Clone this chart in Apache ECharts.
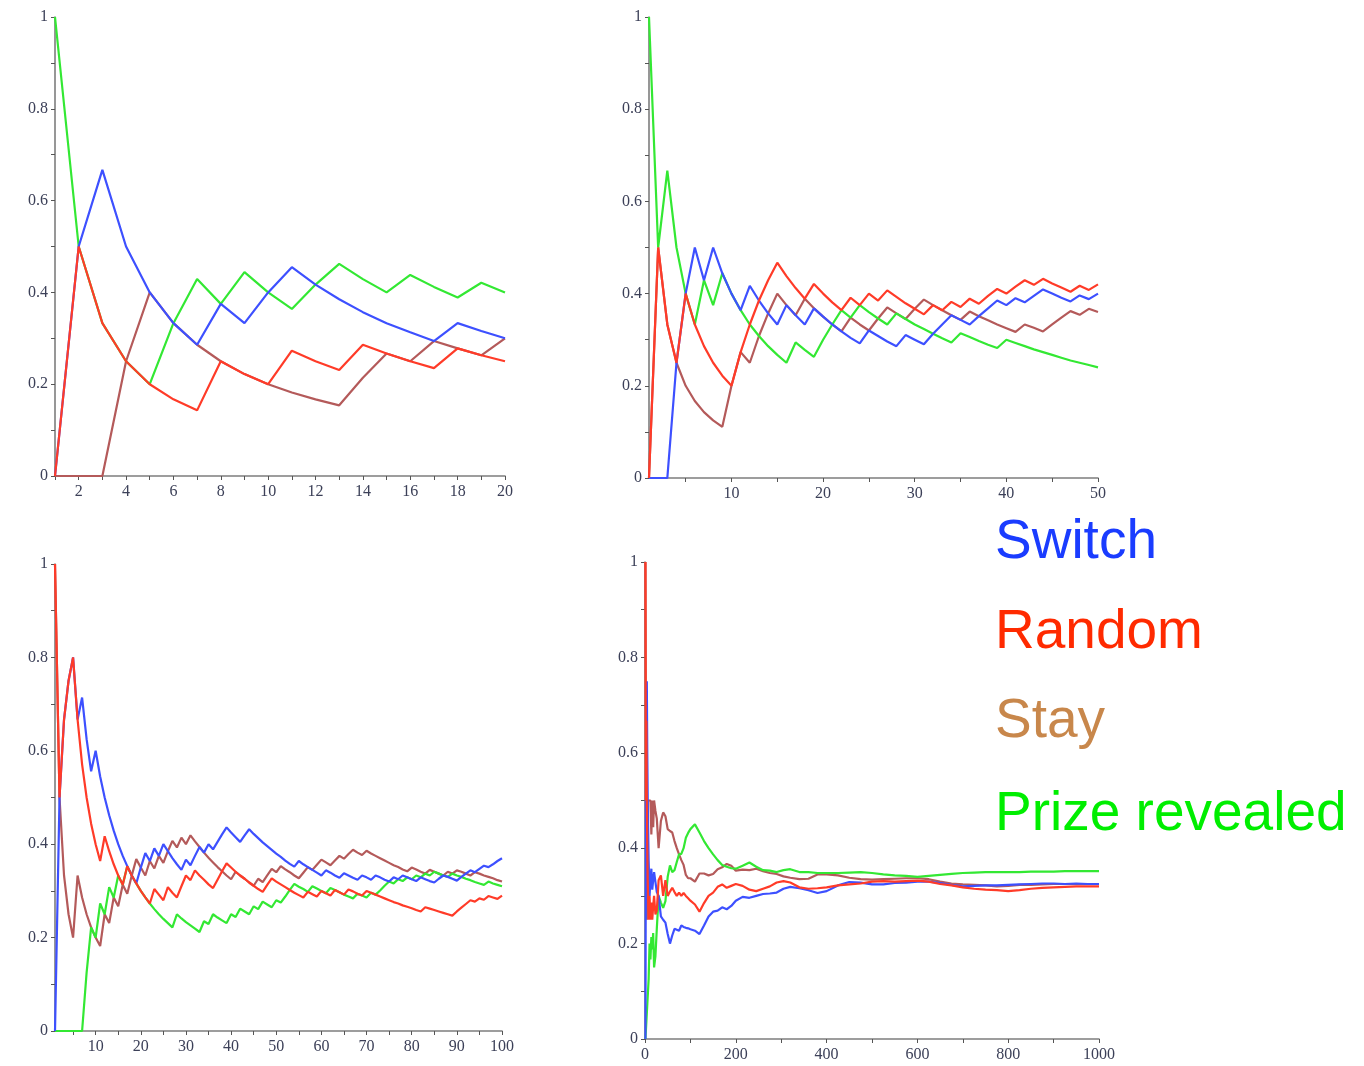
<!DOCTYPE html>
<html><head><meta charset="utf-8">
<script src="https://cdn.jsdelivr.net/npm/echarts@6/dist/echarts.min.js"></script>
<style>html,body{margin:0;padding:0;background:#fff}#c{width:1364px;height:1066px}</style>
</head><body><div id="c"></div>
<script>
// ---------- DATA (running proportions) ----------
const trials20 = [1,2,3,4,5,6,7,8,9,10,11,12,13,14,15,16,17,18,19,20];
const switch20 = [0,0.5,0.667,0.5,0.4,0.333,0.286,0.375,0.333,0.4,0.455,0.417,0.385,0.357,0.333,0.313,0.294,0.333,0.316,0.3];
const random20 = [0,0.5,0.333,0.25,0.2,0.167,0.143,0.25,0.222,0.2,0.273,0.25,0.231,0.286,0.267,0.25,0.235,0.278,0.263,0.25];
const stay20   = [0,0,0,0.25,0.4,0.333,0.286,0.25,0.222,0.2,0.182,0.167,0.154,0.214,0.267,0.25,0.294,0.278,0.263,0.3];
const prize20  = [1,0.5,0.333,0.25,0.2,0.333,0.429,0.375,0.444,0.4,0.364,0.417,0.462,0.429,0.4,0.438,0.412,0.389,0.421,0.4];

const trials50 = [1,2,3,4,5,6,7,8,9,10,11,12,13,14,15,16,17,18,19,20,21,22,23,24,25,26,27,28,29,30,31,32,33,34,35,36,37,38,39,40,41,42,43,44,45,46,47,48,49,50];
const switch50 = [0,0,0,0.25,0.4,0.5,0.429,0.5,0.444,0.4, 0.364,0.417,0.385,0.357,0.333,0.375,0.353,0.333,0.368,0.35, 0.333,0.318,0.304,0.292,0.32,0.308,0.296,0.286,0.31,0.3, 0.29,0.313,0.333,0.353,0.343,0.333,0.351,0.368,0.385,0.375, 0.39,0.381,0.395,0.409,0.4,0.391,0.383,0.396,0.388,0.4];
const random50 = [0,0.5,0.333,0.25,0.4,0.333,0.286,0.25,0.222,0.2, 0.273,0.333,0.385,0.429,0.467,0.438,0.412,0.389,0.421,0.4, 0.381,0.364,0.391,0.375,0.4,0.385,0.407,0.393,0.379,0.367, 0.355,0.375,0.364,0.382,0.371,0.389,0.378,0.395,0.41,0.4, 0.415,0.429,0.419,0.432,0.422,0.413,0.404,0.417,0.408,0.42];
const stay50   = [0,0.5,0.333,0.25,0.2,0.167,0.143,0.125,0.111,0.2, 0.273,0.25,0.308,0.357,0.4,0.375,0.353,0.389,0.368,0.35, 0.333,0.318,0.348,0.333,0.32,0.346,0.37,0.357,0.345,0.367, 0.387,0.375,0.364,0.353,0.343,0.361,0.351,0.342,0.333,0.325, 0.317,0.333,0.326,0.318,0.333,0.348,0.362,0.354,0.367,0.36];
const prize50  = [1,0.5,0.667,0.5,0.4,0.333,0.429,0.375,0.444,0.4, 0.364,0.333,0.308,0.286,0.267,0.25,0.294,0.278,0.263,0.3, 0.333,0.364,0.348,0.375,0.36,0.346,0.333,0.357,0.345,0.333, 0.323,0.313,0.303,0.294,0.314,0.306,0.297,0.289,0.282,0.3, 0.293,0.286,0.279,0.273,0.267,0.261,0.255,0.25,0.245,0.24];

const trials100 = [1,2,3,4,5,6,7,8,9,10,11,12,13,14,15,16,17,18,19,20,21,22,23,24,25,26,27,28,29,30,31,32,33,34,35,36,37,38,39,40,41,42,43,44,45,46,47,48,49,50,51,52,53,54,55,56,57,58,59,60,61,62,63,64,65,66,67,68,69,70,71,72,73,74,75,76,77,78,79,80,81,82,83,84,85,86,87,88,89,90,91,92,93,94,95,96,97,98,99,100];
const switch100 = [0,0.5,0.667,0.75,0.8,0.667,0.714,0.625,0.556,0.6, 0.545,0.5,0.462,0.429,0.4,0.375,0.353,0.333,0.316,0.35, 0.381,0.364,0.391,0.375,0.4,0.385,0.37,0.357,0.345,0.367, 0.355,0.375,0.394,0.382,0.4,0.389,0.405,0.421,0.436,0.425, 0.415,0.405,0.419,0.432,0.422,0.413,0.404,0.396,0.388,0.38, 0.373,0.365,0.358,0.352,0.364,0.357,0.351,0.345,0.339,0.333, 0.344,0.339,0.333,0.328,0.338,0.333,0.328,0.324,0.333,0.329, 0.324,0.333,0.329,0.324,0.32,0.329,0.325,0.333,0.329,0.325, 0.321,0.329,0.325,0.321,0.318,0.326,0.333,0.33,0.326,0.322, 0.33,0.337,0.344,0.34,0.347,0.354,0.351,0.357,0.364,0.37];
const random100 = [1,0.5,0.667,0.75,0.8,0.667,0.571,0.5,0.444,0.4, 0.364,0.417,0.385,0.357,0.333,0.313,0.353,0.333,0.316,0.3, 0.286,0.273,0.304,0.292,0.28,0.308,0.296,0.286,0.31,0.333, 0.323,0.344,0.333,0.324,0.314,0.306,0.324,0.342,0.359,0.35, 0.341,0.333,0.326,0.318,0.311,0.304,0.298,0.313,0.327,0.32, 0.314,0.308,0.302,0.296,0.291,0.286,0.298,0.293,0.288,0.3, 0.295,0.29,0.302,0.297,0.292,0.303,0.299,0.294,0.29,0.3, 0.296,0.292,0.288,0.284,0.28,0.276,0.273,0.269,0.266,0.263, 0.259,0.256,0.265,0.262,0.259,0.256,0.253,0.25,0.247,0.256, 0.264,0.272,0.28,0.277,0.284,0.281,0.289,0.286,0.283,0.29];
const stay100 = [1,0.5,0.333,0.25,0.2,0.333,0.286,0.25,0.222,0.2, 0.182,0.25,0.231,0.286,0.267,0.313,0.294,0.333,0.368,0.35, 0.333,0.364,0.348,0.375,0.36,0.385,0.407,0.393,0.414,0.4, 0.419,0.406,0.394,0.382,0.371,0.361,0.351,0.342,0.333,0.325, 0.341,0.333,0.326,0.318,0.311,0.326,0.319,0.333,0.347,0.34, 0.353,0.346,0.34,0.333,0.327,0.339,0.351,0.345,0.356,0.367, 0.361,0.355,0.365,0.375,0.369,0.379,0.388,0.382,0.377,0.386, 0.38,0.375,0.37,0.365,0.36,0.355,0.351,0.346,0.342,0.35, 0.346,0.341,0.337,0.345,0.341,0.337,0.333,0.341,0.337,0.344, 0.341,0.337,0.333,0.34,0.337,0.333,0.33,0.327,0.323,0.32];
const prize100 = [0,0,0,0,0,0,0,0.125,0.222,0.2, 0.273,0.25,0.308,0.286,0.333,0.313,0.353,0.333,0.316,0.3, 0.286,0.273,0.261,0.25,0.24,0.231,0.222,0.25,0.241,0.233, 0.226,0.219,0.212,0.235,0.229,0.25,0.243,0.237,0.231,0.25, 0.244,0.262,0.256,0.25,0.267,0.261,0.277,0.271,0.265,0.28, 0.275,0.288,0.302,0.315,0.309,0.304,0.298,0.31,0.305,0.3, 0.295,0.306,0.302,0.297,0.292,0.288,0.284,0.294,0.29,0.286, 0.296,0.292,0.301,0.311,0.32,0.316,0.325,0.321,0.329,0.325, 0.333,0.329,0.337,0.333,0.341,0.337,0.333,0.33,0.337,0.333, 0.33,0.326,0.323,0.319,0.316,0.313,0.32,0.316,0.313,0.31];

const trials1000 = [1,2,3,4,5,6,8,10,12,14,16,18,20,23,26,30,35,40,45,50,55,60,65,70,75,80,85,90,95,100,110,120,130,140,150,160,170,180,190,200,215,230,245,260,275,290,305,320,340,360,380,400,425,450,475,500,525,550,575,600,625,650,675,700,725,750,775,800,825,850,875,900,925,950,975,1000];
const switch1000 = [0,0.5,0.667,0.75,0.6,0.5,0.375,0.3,0.333,0.357,0.313,0.333,0.35,0.348,0.308,0.3,0.257,0.25,0.244,0.22,0.2,0.217,0.231,0.229,0.227,0.238,0.235,0.233,0.232,0.23, 0.227,0.22,0.238,0.257,0.267,0.269,0.276,0.272,0.279,0.29, 0.298,0.296,0.3,0.304,0.305,0.307, 0.315,0.319, 0.316,0.312,0.306,0.31, 0.322,0.329,0.328,0.324,0.324,0.327,0.328,0.33,0.33,0.327,0.323,0.32,0.321,0.322,0.322,0.323,0.324,0.325,0.326,0.326,0.325,0.326,0.325,0.325];
const random1000 = [1,0.5,0.667,0.5,0.4,0.333,0.25,0.3,0.25,0.286,0.25,0.278,0.3,0.261,0.269,0.333,0.343,0.3,0.333,0.3,0.309,0.317,0.308,0.3,0.307,0.3,0.306,0.3,0.295,0.29, 0.282,0.267,0.285,0.3,0.307,0.319,0.324,0.317,0.321,0.325, 0.321,0.313,0.31,0.315,0.32,0.328, 0.331,0.328, 0.318,0.315,0.316,0.318, 0.322,0.324,0.326,0.33,0.331,0.33,0.331,0.332,0.33,0.325,0.322,0.318,0.315,0.313,0.312,0.31,0.312,0.315,0.317,0.318,0.319,0.32,0.32,0.32];
const stay1000 = [1,0.5,0.333,0.25,0.4,0.5,0.5,0.5,0.5,0.429,0.5,0.444,0.5,0.478,0.462,0.4,0.457,0.475,0.467,0.44,0.436,0.433,0.415,0.4,0.387,0.375,0.365,0.344,0.337,0.337, 0.33,0.347,0.347,0.343,0.346,0.356,0.36,0.367,0.363,0.353, 0.355,0.354,0.357,0.352,0.348,0.346, 0.341,0.338, 0.335,0.336,0.345,0.345, 0.343,0.338,0.335,0.334,0.335,0.336,0.337,0.337,0.335,0.33,0.326,0.324,0.323,0.322,0.32,0.321,0.323,0.323,0.324,0.325,0.325,0.325,0.325,0.325];
const prize1000 = [0,0,0,0,0,0,0.125,0.2,0.167,0.214,0.188,0.222,0.15,0.174,0.231,0.3,0.286,0.275,0.289,0.34,0.364,0.35,0.354,0.371,0.387,0.388,0.4,0.422,0.432,0.44, 0.45,0.433,0.415,0.4,0.387,0.375,0.365,0.361,0.358,0.357, 0.363,0.37,0.361,0.354,0.353,0.35, 0.354,0.356, 0.35,0.35,0.348,0.348, 0.348,0.349,0.35,0.348,0.345,0.343,0.342,0.34,0.342,0.344,0.346,0.348,0.349,0.35,0.35,0.35,0.35,0.351,0.351,0.351,0.352,0.352,0.352,0.352];

// tick labels / tick positions
const yLabels = [0,0.2,0.4,0.6,0.8,1];
const yTicks = [0,0.1,0.2,0.3,0.4,0.5,0.6,0.7,0.8,0.9,1];
const xLabels20 = [2,4,6,8,10,12,14,16,18,20];
const xTicks20 = [1,2,3,4,5,6,7,8,9,10,11,12,13,14,15,16,17,18,19,20];
const xLabels50 = [10,20,30,40,50];
const xTicks50 = [5,10,15,20,25,30,35,40,45,50];
const xLabels100 = [10,20,30,40,50,60,70,80,90,100];
const xTicks100 = [5,10,15,20,25,30,35,40,45,50,55,60,65,70,75,80,85,90,95,100];
const xLabels1000 = [0,200,400,600,800,1000];
const xTicks1000 = [0,100,200,300,400,500,600,700,800,900,1000];

const legendNames = ['Switch','Random','Stay','Prize revealed'];

// ---------- CHART ----------
const lineColors = {Switch:'#3d50ff', Random:'#ff3b28', Stay:'#b45a5a', 'Prize revealed':'#33e833'};
const legendColors = {Switch:'#1a3cff', Random:'#ff2a00', Stay:'#c8874b', 'Prize revealed':'#00ee00'};

const panels = [
  {trials:trials20, sets:{Switch:switch20, Random:random20, Stay:stay20, 'Prize revealed':prize20},
   grid:{left:55, top:17, width:450, height:459}, xmin:1, xmax:20, xl:xLabels20, xt:xTicks20},
  {trials:trials50, sets:{Switch:switch50, Random:random50, Stay:stay50, 'Prize revealed':prize50},
   grid:{left:649, top:17, width:449, height:461}, xmin:1, xmax:50, xl:xLabels50, xt:xTicks50},
  {trials:trials100, sets:{Switch:switch100, Random:random100, Stay:stay100, 'Prize revealed':prize100},
   grid:{left:55, top:564, width:447, height:467}, xmin:1, xmax:100, xl:xLabels100, xt:xTicks100},
  {trials:trials1000, sets:{Switch:switch1000, Random:random1000, Stay:stay1000, 'Prize revealed':prize1000},
   grid:{left:645, top:562, width:454, height:477}, xmin:0, xmax:1000, xl:xLabels1000, xt:xTicks1000}
];

const labelStyle = {color:'#3c4058', fontFamily:'"Liberation Serif", "DejaVu Serif", serif', fontSize:16,
                    formatter: v => String(v)};
const axisLine = {show:true, onZero:false, lineStyle:{color:'#7d7d7d', width:1.6}};
const grids = [], xAxes = [], yAxes = [], series = [];
const drawOrder = ['Stay','Prize revealed','Switch','Random'];

panels.forEach((p, i) => {
  grids.push(Object.assign({containLabel:false}, p.grid));
  xAxes.push({gridIndex:i, type:'value', min:p.xmin, max:p.xmax,
    axisLine:axisLine,
    axisTick:{show:true, customValues:p.xt, length:4, lineStyle:{color:'#555', width:1}},
    axisLabel:Object.assign({customValues:p.xl, margin:8}, labelStyle),
    splitLine:{show:false}});
  yAxes.push({gridIndex:i, type:'value', min:0, max:1,
    axisLine:axisLine,
    axisTick:{show:true, customValues:yTicks, length:4, lineStyle:{color:'#555', width:1}},
    axisLabel:Object.assign({customValues:yLabels, margin:7}, labelStyle),
    splitLine:{show:false}});
  drawOrder.forEach(name => {
    const vals = p.sets[name];
    series.push({type:'line', name:name, xAxisIndex:i, yAxisIndex:i,
      data:p.trials.map((t,k)=>[t, vals[k]]),
      showSymbol:false, symbol:'none', clip:false, silent:true,
      lineStyle:{color:lineColors[name], width:2.2},
      itemStyle:{color:lineColors[name]}});
  });
});

const legendY = [543, 633, 722, 815];
const graphic = legendNames.map((name, k) => ({
  type:'text', x:995, y:legendY[k],
  style:{text:name, fill:legendColors[name], font:'55px "Liberation Sans", Arial, sans-serif',
         textAlign:'left', textVerticalAlign:'middle', verticalAlign:'middle'}
}));

const chart = echarts.init(document.getElementById('c'), null, {renderer:'canvas'});
chart.setOption({
  animation:false,
  backgroundColor:'#ffffff',
  grid:grids, xAxis:xAxes, yAxis:yAxes, series:series, graphic:graphic
});
</script></body></html>
